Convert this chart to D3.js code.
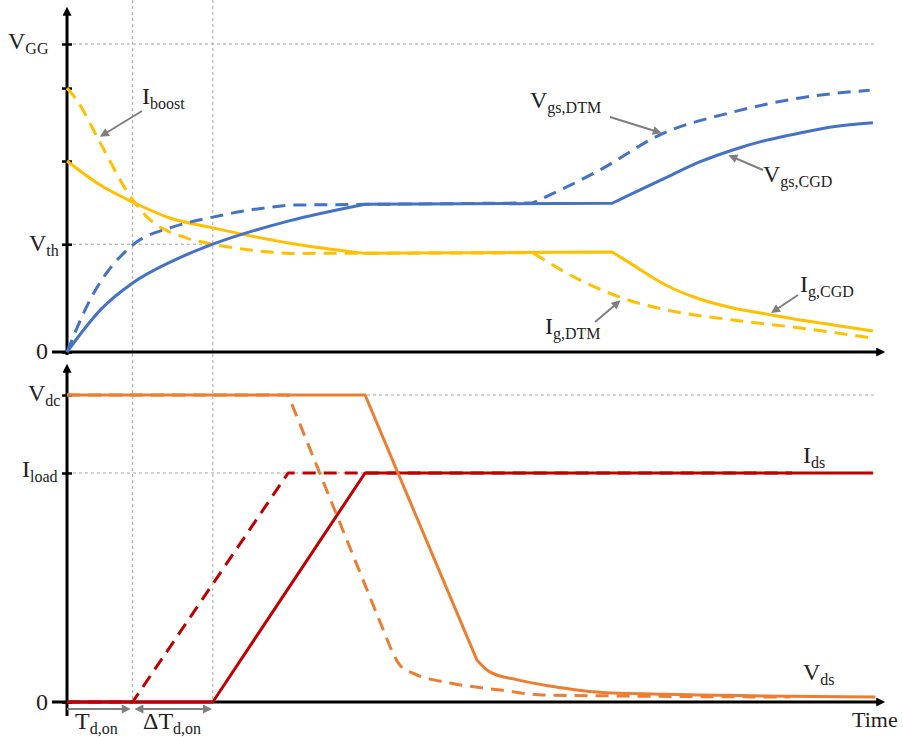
<!DOCTYPE html>
<html>
<meta charset="utf-8">
<style>
  body { margin: 0; background: #fff; }
  svg { width: 903px; height: 737px; display: block; }
  text { fill: #222; }
  .grid { stroke: #a6a6a6; stroke-width: 1; stroke-dasharray: 3,3; fill: none; }
  .curve { fill: none; stroke-width: 3; stroke-linejoin: round; }
  .note { stroke: #7f7f7f; stroke-width: 2; fill: none; }
  .axis line { stroke: #000; stroke-width: 2.5; }
</style>
<body>
  <svg></svg>
</body>
<script src="https://d3js.org/d3.v7.min.js"></script>
<script>

  // TIME MARKS (arbitrary units, shared by both panels)
  var tDelay = 8.1, tDelay2 = 18.0, tEnd = 99.8;

  // TOP PANEL LEVELS (VGG = 10)
  var VGG = 10, Vth = 3.5;
  var topTicks = [0, 3.5, 6.2, 8.57, 10];

  // BOTTOM PANEL LEVELS (Vdc = 10)
  var Vdc = 10, Iload = 7.46;
  var botTicks = [0, 7.46, 10];

  // GATE VOLTAGE
  var vgsCgdT = [0, 4.1, 8.1, 13, 18, 27.3, 36.8, 67.3, 69.9, 74.1, 78.1, 82.2, 86.4, 90.5, 94.6, 99.5];
  var vgsCgdV = [0, 1.36, 2.24, 2.95, 3.5, 4.25, 4.8, 4.83, 5.16, 5.68, 6.17, 6.56, 6.88, 7.11, 7.31, 7.44];
  var vgsCgdCorners = [6, 7];

  var vgsDtmT = [0, 2.84, 8.1, 13.1, 18, 22.6, 27.3, 57.5, 65.8, 73.2, 82.2, 90.5, 99.1];
  var vgsDtmV = [0, 1.69, 3.47, 4.06, 4.38, 4.61, 4.77, 4.84, 5.91, 7.05, 7.79, 8.25, 8.5];
  var vgsDtmCorners = [6, 7];

  // GATE CURRENT
  var igCgdT = [0, 4.1, 8.1, 12.7, 18, 27.3, 36.5, 67.3, 69.9, 74.1, 78.1, 82.2, 86.4, 90.5, 94.6, 99.5];
  var igCgdV = [6.2, 5.42, 4.87, 4.35, 4.03, 3.54, 3.21, 3.25, 2.82, 2.15, 1.72, 1.43, 1.23, 1.04, 0.88, 0.68];
  var igCgdCorners = [6, 7];

  var igDtmT = [0, 1.2, 4.1, 8.1, 9.9, 14.8, 18, 22.6, 27.5, 57.5, 63.3, 68.6, 74.1, 82.2, 90.5, 99.5];
  var igDtmV = [8.57, 8.18, 6.79, 4.94, 4.38, 3.7, 3.5, 3.31, 3.2, 3.22, 2.34, 1.75, 1.36, 1.04, 0.78, 0.45];
  var igDtmCorners = [8, 9];

  // DRAIN CURRENT
  var idsCgdT = [0, 18, 36.8, 99.5];
  var idsCgdV = [0, 0, 7.46, 7.46];
  var idsDtmT = [0, 8.1, 27.3, 89.5];
  var idsDtmV = [0, 0, 7.46, 7.46];

  // DRAIN VOLTAGE
  var vdsCgdT = [0, 36.8, 50.6, 52.2, 55.6, 59.6, 67.3, 99.8];
  var vdsCgdV = [10, 10, 1.37, 0.98, 0.72, 0.52, 0.29, 0.16];
  var vdsCgdCorners = [1, 2];
  var vdsDtmT = [0, 27.3, 39.9, 41.1, 42.7, 47.3, 53.5, 58.8, 67.3, 89.3];
  var vdsDtmV = [10, 10, 1.79, 1.2, 0.94, 0.62, 0.39, 0.23, 0.2, 0.16];
  var vdsDtmCorners = [1, 2];

  var blue = "#4472c4", gold = "#ffc000", orange = "#ed7d31", red = "#c00000";
  var serif = "'Liberation Serif', 'Times New Roman', Times, serif";

  var svg = d3.select("svg");

  var x = d3.scaleLinear().domain([0, 100]).range([67, 877]);
  var yTop = d3.scaleLinear().domain([0, 10]).range([352, 44]);
  var yBot = d3.scaleLinear().domain([0, 10]).range([702, 395]);

  // MARKERS
  var defs = svg.append("defs");
  function marker(id, color, len, wid) {
    defs.append("marker")
      .attr("id", id)
      .attr("viewBox", "0 0 10 10")
      .attr("refX", 2).attr("refY", 5)
      .attr("markerWidth", len).attr("markerHeight", wid)
      .attr("markerUnits", "userSpaceOnUse")
      .attr("orient", "auto-start-reverse")
      .append("path").attr("d", "M0,0L10,5L0,10z").attr("fill", color);
  }
  marker("axArrow", "#000", 11, 9);
  marker("noteArrow", "#7f7f7f", 10, 9);

  // GRID
  var grid = svg.append("g");
  [tDelay, tDelay2].forEach(function(t) {
    grid.append("line").attr("class", "grid")
      .attr("x1", x(t)).attr("x2", x(t)).attr("y1", 0).attr("y2", yBot(0));
  });
  grid.append("line").attr("class", "grid")
    .attr("x1", x(0)).attr("x2", x(tEnd)).attr("y1", yTop(VGG)).attr("y2", yTop(VGG));
  grid.append("line").attr("class", "grid")
    .attr("x1", x(0)).attr("x2", x(tDelay2)).attr("y1", yTop(Vth)).attr("y2", yTop(Vth));
  grid.append("line").attr("class", "grid")
    .attr("x1", x(0)).attr("x2", x(tEnd)).attr("y1", yBot(Vdc)).attr("y2", yBot(Vdc));
  grid.append("line").attr("class", "grid")
    .attr("x1", x(0)).attr("x2", x(tEnd)).attr("y1", yBot(Iload)).attr("y2", yBot(Iload));

  // AXES
  function axisLine(x1, y1, x2, y2) {
    svg.append("line")
      .attr("x1", x1).attr("y1", y1).attr("x2", x2).attr("y2", y2)
      .attr("stroke", "#000").attr("stroke-width", 3)
      .attr("marker-end", "url(#axArrow)");
  }
  axisLine(x(0), yTop(0) + 3, x(0), 14);
  axisLine(x(0) - 15, yTop(0), 878, yTop(0));
  axisLine(x(0), 716, x(0), 371);
  axisLine(x(0) - 15, yBot(0), 878, yBot(0));

  var yAxisTop = d3.axisLeft(yTop).tickValues(topTicks).tickSize(10).tickSizeOuter(0).tickFormat("");
  svg.append("g").attr("class", "axis").attr("transform", "translate(" + (x(0) + 5) + ",0)")
    .call(yAxisTop).select(".domain").remove();
  var yAxisBot = d3.axisLeft(yBot).tickValues(botTicks).tickSize(10).tickSizeOuter(0).tickFormat("");
  svg.append("g").attr("class", "axis").attr("transform", "translate(" + (x(0) + 5) + ",0)")
    .call(yAxisBot).select(".domain").remove();

  // CURVES
  var line = d3.line().x(function(d) { return x(d[0]); }).curve(d3.curveMonotoneX);

  function drawSeries(ts, vs, corners, yScale, color, dashed) {
    var pts = ts.map(function(t, i) { return [t, vs[i]]; });
    var breaks = [0].concat(corners || []).concat([pts.length - 1]);
    line.y(function(d) { return yScale(d[1]); });
    var d = "";
    for (var i = 0; i < breaks.length - 1; i++) {
      var piece = line(pts.slice(breaks[i], breaks[i + 1] + 1));
      d += (i === 0) ? piece : piece.replace(/^M/, "L");
    }
    svg.append("path").attr("class", "curve")
      .attr("d", d)
      .attr("stroke", color)
      .attr("stroke-dasharray", dashed ? "13,8" : null);
  }

  drawSeries(igCgdT, igCgdV, igCgdCorners, yTop, gold, false);
  drawSeries(igDtmT, igDtmV, igDtmCorners, yTop, gold, true);
  drawSeries(vgsCgdT, vgsCgdV, vgsCgdCorners, yTop, blue, false);
  drawSeries(vgsDtmT, vgsDtmV, vgsDtmCorners, yTop, blue, true);

  drawSeries(idsCgdT, idsCgdV, [1, 2], yBot, red, false);
  drawSeries(idsDtmT, idsDtmV, [1, 2], yBot, red, true);
  drawSeries(vdsCgdT, vdsCgdV, vdsCgdCorners, yBot, orange, false);
  drawSeries(vdsDtmT, vdsDtmV, vdsDtmCorners, yBot, orange, true);

  // LABELS
  function label(lx, ly, main, sub, size) {
    var t = svg.append("text").attr("x", lx).attr("y", ly)
      .attr("font-family", serif)
      .attr("font-size", (size || 24) + "px");
    t.append("tspan").text(main);
    if (sub) t.append("tspan").attr("dy", 5).attr("font-size", "16px").text(sub);
  }
  label(8, yTop(VGG) + 5, "V", "GG");
  label(29, yTop(Vth) + 7, "V", "th");
  label(36, yTop(0) + 7, "0");
  label(28, yBot(Vdc) + 6, "V", "dc");
  label(22, yBot(Iload) + 4, "I", "load");
  label(36, yBot(0) + 8, "0");

  label(142, 104, "I", "boost");
  label(530, 108, "V", "gs,DTM");
  label(763, 182, "V", "gs,CGD");
  label(800, 292, "I", "g,CGD");
  label(545, 334, "I", "g,DTM");
  label(803, 463, "I", "ds");
  label(803, 680, "V", "ds");
  label(75, 729, "T", "d,on");
  label(143, 729, "\u0394T", "d,on");
  label(852, 727, "Time", null, 22);

  // NOTE ARROWS
  function note(x1, y1, x2, y2, both) {
    svg.append("line").attr("class", "note")
      .attr("x1", x1).attr("y1", y1).attr("x2", x2).attr("y2", y2)
      .attr("marker-end", "url(#noteArrow)")
      .attr("marker-start", both ? "url(#noteArrow)" : null);
  }
  note(142, 111, 106, 133);
  note(610, 117, 655, 131);
  note(763, 170, 735, 158);
  note(798, 295, 777, 309);
  note(595, 322, 615, 305);
  note(x(0), 709, x(tDelay) - 9, 709);
  note(x(tDelay) + 9, 709, x(tDelay2) - 8, 709, true);

</script>
</html>
